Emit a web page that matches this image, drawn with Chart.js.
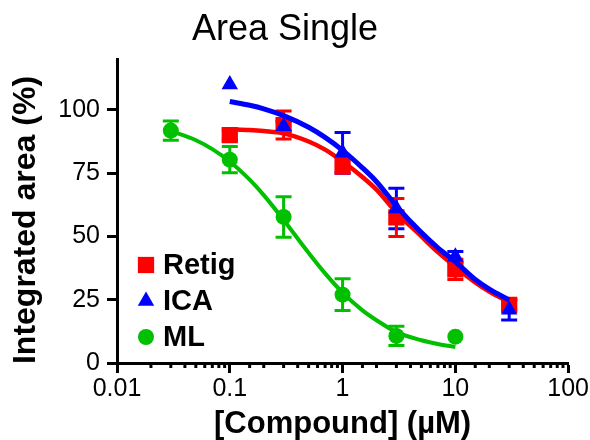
<!DOCTYPE html>
<html>
<head>
<meta charset="utf-8">
<script src="https://cdn.jsdelivr.net/npm/chart.js@4"></script>
<style>
  body { margin: 0; background: #fff; }
  canvas { display: block; }
</style>
</head>
<body>
<canvas id="chart" width="590" height="440"></canvas>
<script>
// measured points (x in µM, y in %), with ± error
const doseX = [0.1, 0.3, 1, 3, 10, 30];
const retigY = [90, 94, 78.5, 57.5, 37, 23];
const retigErr = [2, 5.5, 3.5, 7.5, 4, 2];
const icaY = [110, 93.5, 83, 61, 42, 21];
const icaErr = [0, 2, 8, 8, 2, 4];

const mlX = [0.03, 0.1, 0.3, 1, 3, 10];
const mlY = [91.8, 80.3, 57.7, 27, 10.7, 10.4];
const mlErr = [3.8, 5.2, 8, 6.3, 3.8, 0];

// fitted curves
const curveX = [0.1, 0.15, 0.2, 0.3, 0.5, 0.7, 1, 1.5, 2, 3, 5, 7, 10, 15, 20, 30];
const retigCurve = [92.3, 92.0, 91.6, 90.7, 87.5, 84.3, 79.6, 73.5, 68.5, 59.5, 50.0, 43.8, 38.0, 31.8, 28.2, 24.0];
const icaCurve = [103.3, 101.8, 100.4, 97.7, 93.1, 89.1, 84.0, 77.1, 71.6, 62.0, 51.5, 45.5, 40.0, 33.0, 29.2, 24.9];
const mlCurveX = [0.03, 0.05, 0.07, 0.1, 0.15, 0.2, 0.3, 0.5, 0.7, 1, 1.5, 2, 3, 5, 7, 10];
const mlCurve = [91.6, 88.0, 84.5, 79.6, 72.4, 66.3, 56.5, 43.5, 35.4, 27.8, 20.8, 16.9, 12.2, 9.0, 7.5, 6.3];

const yTicks = [0, 25, 50, 75, 100];

const RED = '#ff0000';
const BLUE = '#0000ff';
const GREEN = '#00c000';
const FONT = '"Liberation Sans", Arial, sans-serif';

const pts = (xs, ys) => xs.map((x, i) => ({ x, y: ys[i] }));
const isDecade = v => Math.abs(Math.log10(v) - Math.round(Math.log10(v))) < 1e-6;

function pointSet(label, xs, ys, errs, color, style, radius) {
  return {
    label, data: pts(xs, ys), errors: errs,
    showLine: false,
    pointStyle: style, pointRadius: radius, pointHoverRadius: radius,
    pointBackgroundColor: color, pointBorderWidth: 0,
    borderColor: color, backgroundColor: color,
    legendItem: true
  };
}

function curveSet(xs, ys, color, width) {
  return {
    label: '', data: pts(xs, ys),
    showLine: true, pointRadius: 0, pointHoverRadius: 0,
    borderColor: color, borderWidth: width,
    cubicInterpolationMode: 'monotone', fill: false
  };
}

// error bars drawn under the markers
const errorBars = {
  id: 'errorBars',
  beforeDatasetsDraw(chart) {
    const { ctx, scales: { x, y } } = chart;
    ctx.save();
    ctx.lineWidth = 3;
    chart.data.datasets.forEach(ds => {
      if (!ds.errors) return;
      ctx.strokeStyle = ds.borderColor;
      ds.data.forEach((p, i) => {
        const e = ds.errors[i];
        if (!e) return;
        const px = x.getPixelForValue(p.x);
        const top = y.getPixelForValue(p.y + e);
        const bot = y.getPixelForValue(p.y - e);
        ctx.beginPath();
        ctx.moveTo(px, top); ctx.lineTo(px, bot);
        ctx.moveTo(px - 8, top); ctx.lineTo(px + 8, top);
        ctx.moveTo(px - 8, bot); ctx.lineTo(px + 8, bot);
        ctx.stroke();
      });
    });
    ctx.restore();
  }
};

// short minor ticks on the log axis
const minorTicks = {
  id: 'minorTicks',
  afterDraw(chart) {
    const { ctx, scales: { x } } = chart;
    ctx.save();
    ctx.strokeStyle = '#000';
    ctx.lineWidth = 3;
    x.ticks.forEach(t => {
      if (isDecade(t.value)) return;
      const px = x.getPixelForValue(t.value);
      ctx.beginPath();
      ctx.moveTo(px, x.top);
      ctx.lineTo(px, x.top + 5);
      ctx.stroke();
    });
    ctx.restore();
  }
};

// legend sitting inside the plot, bottom left
const insideLegend = {
  id: 'insideLegend',
  afterDatasetsDraw(chart) {
    const { ctx, chartArea } = chart;
    const items = chart.data.datasets.filter(ds => ds.legendItem);
    const order = ['Retig', 'ICA', 'ML'];
    ctx.save();
    ctx.font = 'bold 29px ' + FONT;
    ctx.textBaseline = 'middle';
    order.forEach((name, i) => {
      const ds = items.find(d => d.label === name);
      const cy = chartArea.bottom - 98 + i * 36;
      const cx = chartArea.left + 29;
      ctx.fillStyle = ds.borderColor;
      Chart.helpers.drawPoint(ctx, { pointStyle: ds.pointStyle, radius: ds.pointRadius, rotation: 0, borderWidth: 0 }, cx, cy);
      ctx.fillStyle = '#000';
      ctx.fillText(name, cx + 17, cy + 1);
    });
    ctx.restore();
  }
};

const datasets = [
  pointSet('ICA', doseX, icaY, icaErr, BLUE, 'triangle', 9.5),
  curveSet(curveX, icaCurve, BLUE, 5),
  pointSet('Retig', doseX, retigY, retigErr, RED, 'rect', 11.5),
  curveSet(curveX, retigCurve, RED, 4.5),
  pointSet('ML', mlX, mlY, mlErr, GREEN, 'circle', 8),
  curveSet(mlCurveX, mlCurve, GREEN, 4)
];

new Chart(document.getElementById('chart').getContext('2d'), {
  type: 'scatter',
  data: { datasets },
  plugins: [errorBars, minorTicks, insideLegend],
  options: {
    responsive: false,
    animation: false,
    events: [],
    layout: { padding: { left: 0, right: 20, top: 0, bottom: 0 } },
    plugins: {
      legend: { display: false },
      tooltip: { enabled: false },
      title: {
        display: true,
        text: 'Area Single',
        color: '#000',
        font: { family: FONT, size: 36, weight: 'normal' },
        padding: { top: 8, bottom: 8 }
      }
    },
    scales: {
      x: {
        type: 'logarithmic',
        min: 0.01, max: 100,
        afterFit: s => { s.height = 77; },
        border: { display: true, color: '#000', width: 3 },
        grid: {
          drawOnChartArea: false, drawTicks: true, tickLength: 10, tickWidth: 3,
          tickColor: c => (c.tick && isDecade(c.tick.value)) ? '#000' : 'rgba(0,0,0,0)'
        },
        ticks: {
          color: '#000', padding: 1, maxRotation: 0, autoSkip: false,
          font: { family: FONT, size: 25 },
          callback: v => isDecade(v) ? String(+v.toPrecision(3)) : ''
        },
        title: {
          display: true, text: '[Compound] (µM)', color: '#000',
          font: { family: FONT, size: 31, weight: 'bold' },
          padding: { top: 0, bottom: -3 }
        }
      },
      y: {
        min: 0, max: 120,
        afterFit: s => { s.width = 117; },
        afterBuildTicks: s => { s.ticks = yTicks.map(v => ({ value: v })); },
        border: { display: true, color: '#000', width: 3 },
        grid: { drawOnChartArea: false, drawTicks: true, tickLength: 10, tickWidth: 3, tickColor: '#000' },
        ticks: {
          color: '#000', padding: 7,
          font: { family: FONT, size: 25 }
        },
        title: {
          display: true, text: 'Integrated area (%)  ', color: '#000',
          font: { family: FONT, size: 32, weight: 'bold' },
          padding: { top: 7, bottom: 0 }
        }
      }
    }
  }
});
</script>
</body>
</html>
